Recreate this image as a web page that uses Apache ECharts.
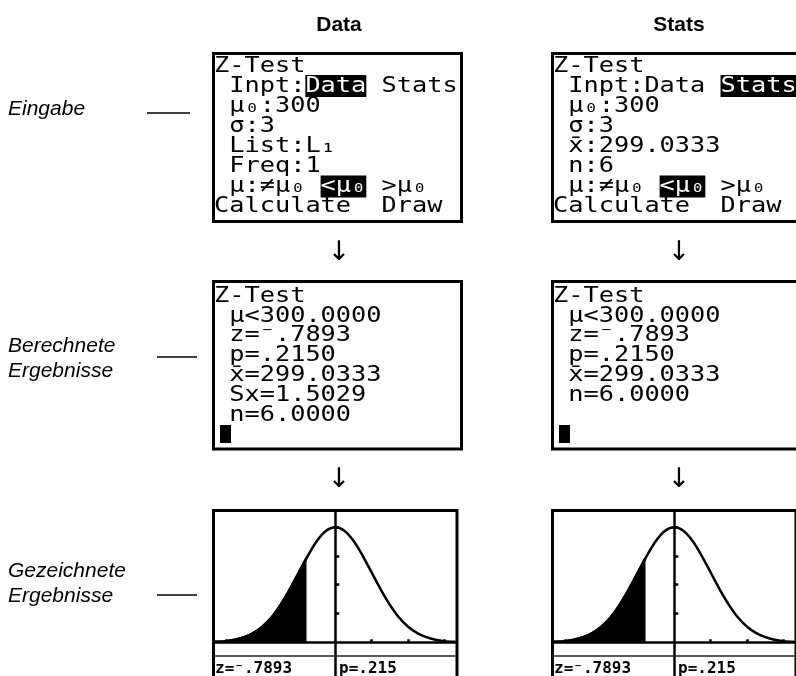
<!DOCTYPE html>
<html>
<head>
<meta charset="utf-8">
<script src="https://cdn.jsdelivr.net/npm/echarts@6/dist/echarts.min.js"></script>
<style>
  html, body { margin: 0; padding: 0; background: #fff; }
  #main { width: 796px; height: 676px; }
</style>
</head>
<body>
<div id="main"></div>
<script>
  var columnTitles = ['Data', 'Stats'];
  var rowLabels = ['Eingabe', 'Berechnete\nErgebnisse', 'Gezeichnete\nErgebnisse'];

  // screen lines, {h|..} = inverse video
  var dataInputLines = ['Z-Test', ' Inpt:{h|Data} Stats', ' μ₀:300', ' σ:3', ' List:L₁', ' Freq:1', ' μ:≠μ₀ {h|<μ₀} >μ₀', 'Calculate  Draw'];
  var statsInputLines = ['Z-Test', ' Inpt:Data {h|Stats}', ' μ₀:300', ' σ:3', ' x̄:299.0333', ' n:6', ' μ:≠μ₀ {h|<μ₀} >μ₀', 'Calculate  Draw'];
  var dataResultLines = ['Z-Test', ' μ<300.0000', ' z=⁻.7893', ' p=.2150', ' x̄=299.0333', ' Sx=1.5029', ' n=6.0000'];
  var statsResultLines = ['Z-Test', ' μ<300.0000', ' z=⁻.7893', ' p=.2150', ' x̄=299.0333', ' n=6.0000'];

  // drawn curve
  var curveX = [-3.3, -3.0, -2.75, -2.5, -2.25, -2.0, -1.75, -1.5, -1.25, -1.0, -0.7893, -0.5, -0.25, 0, 0.25, 0.5, 0.75, 1.0, 1.25, 1.5, 1.75, 2.0, 2.25, 2.5, 2.75, 3.0, 3.3];
  var curveY = [0.002, 0.004, 0.009, 0.018, 0.032, 0.054, 0.086, 0.130, 0.183, 0.242, 0.292, 0.352, 0.387, 0.399, 0.387, 0.352, 0.301, 0.242, 0.183, 0.130, 0.086, 0.054, 0.032, 0.018, 0.009, 0.004, 0.002];
  var zValue = -0.7893;
  var xTicks = [-3, -2, -1, 1, 2, 3];
  var yTicks = [0.1, 0.2, 0.3, 0.4];
  var graphLabels = ['z=⁻.7893', 'p=.215'];

  var MONO = '"DejaVu Sans Mono", monospace';
  var SANS = '"Liberation Sans", Arial, sans-serif';
  var SHIFT = 339;
  var graphic = [];

  function box(x, y, w, h) {
    graphic.push({
      type: 'rect', z: 30, silent: true,
      shape: { x: x, y: y, width: w, height: h },
      style: { fill: 'none', stroke: '#000', lineWidth: 3 }
    });
  }

  // calculator font is squarer than DejaVu Mono, so stretch it a bit sideways
  function screenText(lines, left, y0, step) {
    lines.forEach(function (line, i) {
      graphic.push({
        type: 'text', z: 20,
        x: left, y: y0 + i * step, scaleX: 1.15,
        style: {
          text: line, x: 0, y: 0,
          fontFamily: MONO, fontSize: 22, lineHeight: 17,
          fill: '#000', verticalAlign: 'middle',
          rich: {
            h: { fontFamily: MONO, fontSize: 22, lineHeight: 17, fill: '#fff', backgroundColor: '#000' }
          }
        }
      });
    });
  }

  // column titles and arrows
  columnTitles.forEach(function (t, c) {
    var cx = 339 + c * (SHIFT + 1);
    graphic.push({
      type: 'text',
      style: { text: t, x: cx, y: 25, align: 'center', verticalAlign: 'middle',
        fontFamily: SANS, fontWeight: 'bold', fontSize: 21, fill: '#000' }
    });
    [253, 480].forEach(function (ay) {
      graphic.push({
        type: 'text',
        style: { text: '↓', x: cx, y: ay, align: 'center', verticalAlign: 'middle',
          fontFamily: '"DejaVu Sans", sans-serif', fontSize: 27, fill: '#000' }
      });
    });
  });

  // row labels with short rules
  var labelY = [109.5, 359, 584];
  var ruleY = [113, 357, 595];
  var ruleX = [[147, 190], [157, 197], [157, 197]];
  rowLabels.forEach(function (t, r) {
    graphic.push({
      type: 'text',
      style: { text: t, x: 8, y: labelY[r], verticalAlign: 'middle', lineHeight: 25,
        fontFamily: SANS, fontStyle: 'italic', fontSize: 21, fill: '#000' }
    });
    graphic.push({
      type: 'line',
      shape: { x1: ruleX[r][0], y1: ruleY[r], x2: ruleX[r][1], y2: ruleY[r] },
      style: { stroke: '#000', lineWidth: 1.5 }
    });
  });

  // screens
  [0, 1].forEach(function (c) {
    var dx = c * SHIFT;
    box(213.5 + dx, 53.5, 248, 168);
    box(213.5 + dx, 281.5, 248, 167.5);
    box(213.5 + dx, 510.5, 243.5, 190);
    // cursor
    graphic.push({
      type: 'rect', shape: { x: 220 + dx, y: 425, width: 11, height: 18 },
      style: { fill: '#000' }
    });
    // separator above graph text
    graphic.push({
      type: 'line', z: 25,
      shape: { x1: 215 + dx, y1: 656, x2: 455.5 + dx, y2: 656 },
      style: { stroke: '#222', lineWidth: 1.5 }
    });
    graphic.push({
      type: 'text', z: 25,
      style: { text: graphLabels[0], x: 215 + dx, y: 669, verticalAlign: 'middle',
        fontFamily: MONO, fontWeight: 'bold', fontSize: 16, fill: '#000' }
    });
    graphic.push({
      type: 'text', z: 25,
      style: { text: graphLabels[1], x: 339 + dx, y: 669, verticalAlign: 'middle',
        fontFamily: MONO, fontWeight: 'bold', fontSize: 16, fill: '#000' }
    });
  });
  screenText(dataInputLines, 214, 66, 20.07);
  screenText(statsInputLines, 214 + SHIFT, 66, 20.07);
  screenText(dataResultLines, 214, 296, 19.8);
  screenText(statsResultLines, 214 + SHIFT, 296, 19.8);

  var curveData = curveX.map(function (x, i) { return [x, curveY[i]]; });
  var shadeData = curveData.filter(function (p) { return p[0] <= zValue; });

  var grids = [], xAxes = [], yAxes = [], series = [];
  [0, 1].forEach(function (c) {
    grids.push({ left: 215 + c * SHIFT, top: 512, width: 240.5, height: 164 });
    xAxes.push({
      type: 'value', gridIndex: c, min: -3.3, max: 3.3,
      axisLine: { onZero: true, lineStyle: { color: '#000', width: 2.5 } },
      axisTick: { inside: true, length: 3, customValues: xTicks, lineStyle: { color: '#000', width: 2.5 } },
      axisLabel: { show: false }, splitLine: { show: false }
    });
    yAxes.push({
      type: 'value', gridIndex: c, min: -0.117, max: 0.452,
      axisLine: { onZero: true, lineStyle: { color: '#000', width: 2.5 } },
      axisTick: { inside: true, length: 4, customValues: yTicks, lineStyle: { color: '#000', width: 2.5 } },
      axisLabel: { show: false }, splitLine: { show: false }
    });
    series.push({
      type: 'line', xAxisIndex: c, yAxisIndex: c, data: shadeData,
      showSymbol: false, smooth: 0.3, silent: true,
      lineStyle: { color: '#000', width: 2.5 },
      areaStyle: { color: '#000', opacity: 1 }
    });
    series.push({
      type: 'line', xAxisIndex: c, yAxisIndex: c, data: curveData,
      showSymbol: false, smooth: 0.3, silent: true,
      lineStyle: { color: '#000', width: 2.5 }
    });
  });

  var chart = echarts.init(document.getElementById('main'));
  chart.setOption({
    animation: false,
    backgroundColor: '#fff',
    grid: grids,
    xAxis: xAxes,
    yAxis: yAxes,
    series: series,
    graphic: graphic
  });
</script>
</body>
</html>
